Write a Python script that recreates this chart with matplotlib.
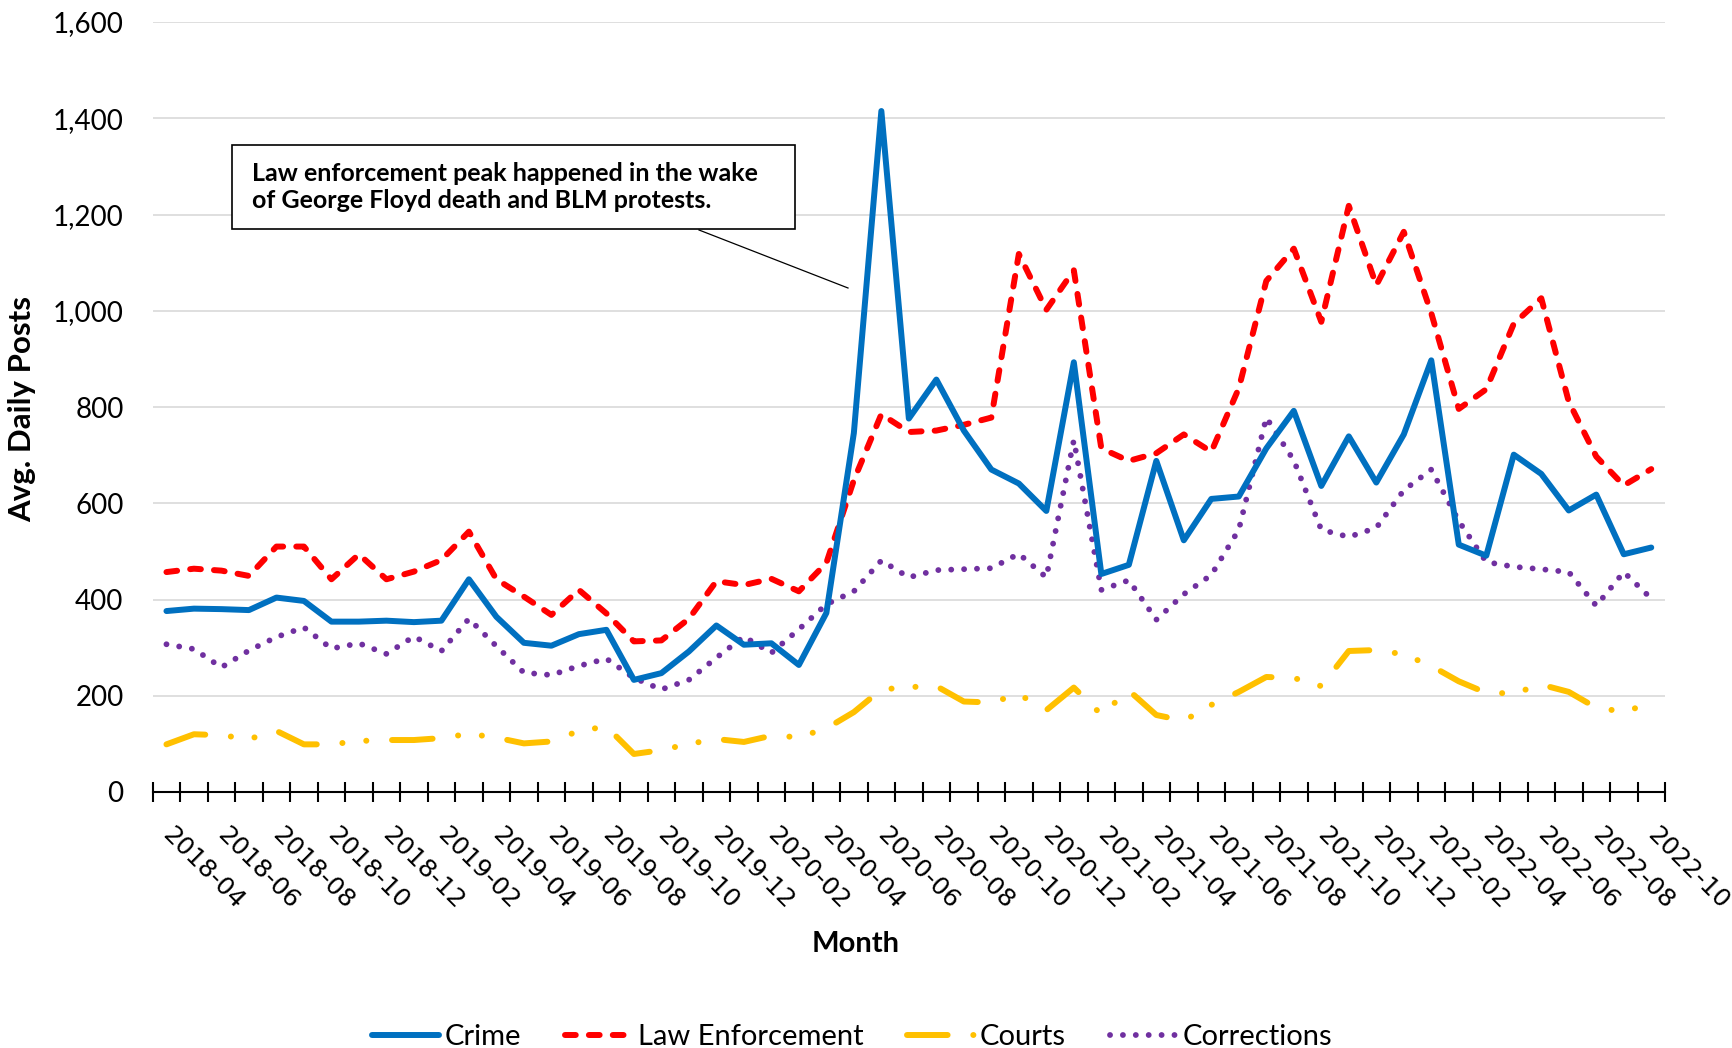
import matplotlib
matplotlib.use("Agg")
import matplotlib.pyplot as plt
from matplotlib.lines import Line2D
from matplotlib.patches import Rectangle
import numpy as np

months = ["2018-04","2018-05","2018-06","2018-07","2018-08","2018-09","2018-10","2018-11","2018-12",
          "2019-01","2019-02","2019-03","2019-04","2019-05","2019-06","2019-07","2019-08","2019-09",
          "2019-10","2019-11","2019-12","2020-01","2020-02","2020-03","2020-04","2020-05","2020-06",
          "2020-07","2020-08","2020-09","2020-10","2020-11","2020-12","2021-01","2021-02","2021-03",
          "2021-04","2021-05","2021-06","2021-07","2021-08","2021-09","2021-10","2021-11","2021-12",
          "2022-01","2022-02","2022-03","2022-04","2022-05","2022-06","2022-07","2022-08","2022-09",
          "2022-10"]

crime = [376, 381, 380, 378, 404, 397, 354, 354, 356, 353, 356, 442, 364, 310, 304, 328, 337, 233,
         247, 292, 346, 306, 309, 264, 372, 746, 1415, 776, 857, 751, 670, 641, 584, 893, 453, 472,
         688, 523, 609, 614, 714, 792, 636, 739, 643, 743, 897, 514, 491, 701, 661, 585, 618, 494, 508]

law_enforcement = [457, 464, 460, 449, 510, 510, 442, 494, 442, 458, 482, 541, 442, 406, 368, 420, 371,
                   313, 315, 360, 438, 430, 443, 417, 476, 648, 785, 748, 751, 763, 778, 1118, 1002,
                   1084, 714, 688, 704, 743, 707, 839, 1062, 1129, 977, 1218, 1053, 1164, 995, 796, 837,
                   973, 1026, 811, 697, 637, 671]

courts = [99, 120, 118, 110, 127, 99, 99, 106, 108, 108, 112, 121, 113, 101, 105, 127, 136, 79, 87,
          100, 110, 104, 117, 114, 132, 166, 213, 218, 220, 188, 186, 203, 170, 217, 161, 211, 160,
          148, 181, 208, 239, 237, 220, 293, 295, 286, 262, 230, 206, 205, 223, 208, 175, 167, 184]

corrections = [307, 297, 259, 294, 322, 342, 298, 309, 287, 323, 293, 360, 303, 248, 243, 262, 277,
               237, 213, 233, 279, 323, 289, 338, 390, 417, 481, 446, 461, 463, 465, 495, 446, 731,
               420, 440, 358, 411, 451, 545, 778, 689, 545, 530, 549, 627, 670, 563, 478, 468, 463,
               457, 387, 457, 402]

series_names = ["Crime", "Law Enforcement", "Courts", "Corrections"]
yticks = [0, 200, 400, 600, 800, 1000, 1200, 1400, 1600]
annotation_text = "Law enforcement peak happened in the wake\nof George Floyd death and BLM protests."

W, H = 1732, 1048
fig = plt.figure(figsize=(W / 100, H / 100), dpi=100)
L, R, T, B = 152.7, 1665.0, 22.0, 792.0
ax = fig.add_axes([L / W, 1 - B / H, (R - L) / W, (B - T) / H])

x = np.arange(len(months))
lw = 4.3
ax.plot(x, crime, color="#0070C0", lw=lw, solid_capstyle="round", solid_joinstyle="round",
        label=series_names[0], zorder=4)
ax.plot(x, law_enforcement, color="#FF0000", lw=lw, linestyle=(0, (1.8, 2.2)),
        dash_capstyle="round", dash_joinstyle="round", label=series_names[1], zorder=3)
ax.plot(x, courts, color="#FFC000", lw=lw, linestyle=(0, (6.8, 4.3, 0.02, 4.0, 0.02, 4.3)),
        dash_capstyle="round", dash_joinstyle="round", label=series_names[2], zorder=2)
ax.plot(x, corrections, color="#7030A0", lw=4.2, linestyle=(0, (0.01, 2.2)),
        dash_capstyle="round", label=series_names[3], zorder=2.5)

ax.set_xlim(-0.5, len(months) - 0.5)
ax.set_ylim(0, 1600)

for s in ["left", "right", "top"]:
    ax.spines[s].set_visible(False)
ax.spines["bottom"].set_linewidth(1.5)
ax.spines["bottom"].set_color("black")

ax.set_yticks(yticks)
ax.set_yticklabels([f"{v:,}" for v in yticks], fontfamily="Lato", fontsize=20)
ax.tick_params(axis="y", length=0, pad=21)
ax.yaxis.grid(True, color="#D9D9D9", lw=1.2)
ax.set_axisbelow(True)

major_idx = x[::2]
ax.set_xticks(major_idx)
ax.set_xticklabels([months[i] for i in major_idx], rotation=-45, ha="left", va="center",
                   rotation_mode="anchor", fontfamily="DejaVu Sans", fontsize=18)
ax.tick_params(axis="x", which="major", length=0, pad=28)
ax.set_xticks(np.arange(-0.5, len(months), 1.0), minor=True)
ax.tick_params(axis="x", which="minor", direction="inout", length=14.5, width=1.5, color="black")

fig.text(856 / W, 1 - 944 / H, "Month", fontfamily="Lato", fontweight="bold", fontsize=21,
         ha="center", va="center")
fig.text(22 / W, 1 - 409 / H, "Avg. Daily Posts", fontfamily="Lato", fontweight="bold",
         fontsize=22.5, ha="center", va="center", rotation=90)

# annotation box
bx0, by0, bx1, by1 = 232, 145, 795, 229
fig.patches.append(Rectangle((bx0 / W, 1 - by1 / H), (bx1 - bx0) / W, (by1 - by0) / H,
                             transform=fig.transFigure, facecolor="white", edgecolor="black",
                             lw=1.2, zorder=5))
fig.text(252 / W, 1 - 187 / H, annotation_text, fontfamily="Lato", fontweight="bold",
         fontsize=18, ha="left", va="center", linespacing=1.25, zorder=6)
fig.lines.append(Line2D([699 / W, 848 / W], [1 - 230 / H, 1 - 288 / H], transform=fig.transFigure,
                        color="black", lw=0.9, zorder=5))

leg = fig.legend(loc="center", bbox_to_anchor=(852 / W, 1 - 1037 / H), ncol=4, frameon=False,
                 prop={"family": "Lato", "size": 21}, handlelength=2.3, handletextpad=0.2,
                 columnspacing=1.5, borderaxespad=0)

fig.savefig("out.png", dpi=100)
